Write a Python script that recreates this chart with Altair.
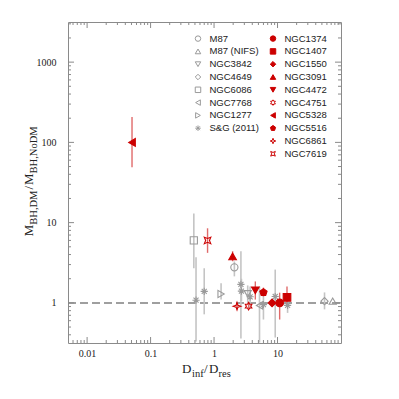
import altair as alt
import pandas as pd

W, H = 273, 321

# ---------------- data ----------------
gray_names = ["M87", "M87 (NIFS)", "NGC3842", "NGC4649", "NGC6086",
              "NGC7768", "NGC1277", "S&G (2011)"]
red_names = ["NGC1374", "NGC1407", "NGC1550", "NGC3091", "NGC4472",
             "NGC4751", "NGC5328", "NGC5516", "NGC6861", "NGC7619"]

pt_name = ["M87", "M87 (NIFS)", "NGC3842", "NGC4649", "NGC6086", "NGC7768", "NGC1277",
           "S&G (2011)", "S&G (2011)", "S&G (2011)", "S&G (2011)",
           "S&G (2011)", "S&G (2011)", "S&G (2011)", "S&G (2011)",
           "NGC1374", "NGC1407", "NGC1550", "NGC3091", "NGC4472",
           "NGC4751", "NGC5328", "NGC5516", "NGC6861", "NGC7619"]
pt_x = [2.09, 74.0, 3.39, 55.0, 0.48, 5.2, 1.29,
        0.52, 0.70, 2.65, 2.70, 3.70, 6.0, 9.2, 14.4,
        10.8, 14.1, 8.2, 1.96, 4.47, 3.5, 0.051, 6.0, 2.3, 0.79]
pt_y = [2.77, 1.05, 1.30, 1.05, 6.0, 0.93, 1.29,
        1.08, 1.39, 1.70, 1.40, 1.19, 0.95, 1.20, 0.93,
        1.00, 1.17, 1.00, 3.79, 1.43, 0.91, 100.0, 1.35, 0.91, 6.0]
pt_lo = [2.14, None, 1.0, 0.83, 2.7, 0.32, 1.10,
         0.33, 0.72, 0.36, 1.05, 0.85, 0.62, 0.37, 0.75,
         0.62, 0.95, 0.90, 3.30, 1.10, 0.85, 49.0, 1.20, 0.83, 4.2]
pt_hi = [3.28, None, 1.65, 1.35, 13.0, 1.6, 1.75,
         3.7, 2.7, 4.4, 2.0, 1.6, 1.3, 2.6, 1.1,
         1.34, 1.60, 1.10, 4.40, 1.85, 0.98, 207.0, 1.55, 1.00, 8.5]

# axis tick positions
xt_major = [0.01, 0.1, 1, 10]
xt_minor = [0.006, 0.007, 0.008, 0.009,
            0.02, 0.03, 0.04, 0.05, 0.06, 0.07, 0.08, 0.09,
            0.2, 0.3, 0.4, 0.5, 0.6, 0.7, 0.8, 0.9,
            2, 3, 4, 5, 6, 7, 8, 9,
            20, 30, 40, 50, 60, 70, 80, 90]
yt_major = [1, 10, 100, 1000]
yt_minor = [0.4, 0.5, 0.6, 0.7, 0.8, 0.9,
            2, 3, 4, 5, 6, 7, 8, 9,
            20, 30, 40, 50, 60, 70, 80, 90,
            200, 300, 400, 500, 600, 700, 800, 900,
            2000, 3000]

# ---------------- styling ----------------
GRAY = "#9a9a9a"
GRAY_BAR = "#c4c4c4"
RED = "#cc0000"
RED_BAR = "#e06a6a"
AXC = "#8a8a8a"

PENT = "M0,-1L0.951,-0.309L0.588,0.809L-0.588,0.809L-0.951,-0.309Z"
HEXA = ("M0,-1L0.289,-0.5L0.866,-0.5L0.577,0L0.866,0.5L0.289,0.5L0,1L-0.289,0.5"
        "L-0.866,0.5L-0.577,0L-0.866,-0.5L-0.289,-0.5Z")
STAR4 = "M0,-1L0.25,-0.25L1,0L0.25,0.25L0,1L-0.25,0.25L-1,0L-0.25,-0.25Z"
CSQ = "M-0.85,-0.85L0,-0.5L0.85,-0.85L0.5,0L0.85,0.85L0,0.5L-0.85,0.85L-0.5,0Z"
AST = "M0,-1L0,1M-1,0L1,0M-0.7,-0.7L0.7,0.7M-0.7,0.7L0.7,-0.7"

style = {
    "M87": ("circle", "transparent", GRAY),
    "M87 (NIFS)": ("triangle-up", "transparent", GRAY),
    "NGC3842": ("triangle-down", "transparent", GRAY),
    "NGC4649": ("diamond", "transparent", GRAY),
    "NGC6086": ("square", "transparent", GRAY),
    "NGC7768": ("triangle-left", "transparent", GRAY),
    "NGC1277": ("triangle-right", "transparent", GRAY),
    "S&G (2011)": (AST, "transparent", GRAY),
    "NGC1374": ("circle", RED, RED),
    "NGC1407": ("square", RED, RED),
    "NGC1550": ("diamond", RED, RED),
    "NGC3091": ("triangle-up", RED, RED),
    "NGC4472": ("triangle-down", RED, RED),
    "NGC4751": (HEXA, "transparent", RED),
    "NGC5328": ("triangle-left", RED, RED),
    "NGC5516": (PENT, RED, RED),
    "NGC6861": (STAR4, "transparent", RED),
    "NGC7619": (CSQ, "transparent", RED),
}
all_names = gray_names + red_names

xs = alt.Scale(type="log", domain=[0.005, 100], nice=False)
ys = alt.Scale(type="log", domain=[0.316228, 3162.28], nice=False)
xaxis = alt.Axis(values=xt_major, format="~g", title=None, ticks=False, tickSize=0,
                 domain=False, grid=False, labelFont="Liberation Serif",
                 labelFontSize=10, labelColor="#222", labelPadding=5)
yaxis = alt.Axis(values=yt_major, format="~g", title=None, ticks=False, tickSize=0,
                 domain=False, grid=False, labelFont="Liberation Serif",
                 labelFontSize=10, labelColor="#222", labelPadding=12)


def X(f):
    return alt.X(f, type="quantitative", scale=xs, axis=xaxis)


def Y(f):
    return alt.Y(f, type="quantitative", scale=ys, axis=yaxis)


df = pd.DataFrame({"name": pt_name, "x": pt_x, "y": pt_y, "lo": pt_lo, "hi": pt_hi})
df["grp"] = ["gray" if n in gray_names else "red" for n in df["name"]]
one = pd.DataFrame({"d": [0]})

layers = []

# dashed line at unity
layers.append(
    alt.Chart(pd.DataFrame({"y": [1.0]})).mark_rule(
        color="#808080", strokeWidth=1.5, strokeDash=[8, 4]
    ).encode(y=Y("y"), x=alt.value(0), x2=alt.value(W))
)

# error bars
bars = df.dropna(subset=["lo", "hi"])
layers.append(
    alt.Chart(bars[bars.grp == "gray"]).mark_rule(color=GRAY_BAR, strokeWidth=1.6, clip=True)
    .encode(x=X("x"), y=Y("lo"), y2="hi")
)
layers.append(
    alt.Chart(bars[bars.grp == "red"]).mark_rule(color=RED_BAR, strokeWidth=1.4, clip=True)
    .encode(x=X("x"), y=Y("lo"), y2="hi")
)

# points
shape_scale = alt.Scale(domain=all_names, range=[style[n][0] for n in all_names])
fill_scale = alt.Scale(domain=all_names, range=[style[n][1] for n in all_names])
stroke_scale = alt.Scale(domain=all_names, range=[style[n][2] for n in all_names])
for grp, size in (("gray", 52), ("red", 58)):
    layers.append(
        alt.Chart(df[df.grp == grp]).mark_point(filled=True, opacity=1, size=size, strokeWidth=1.1)
        .encode(
            x=X("x"), y=Y("y"),
            shape=alt.Shape("name:N", scale=shape_scale, legend=None),
            fill=alt.Fill("name:N", scale=fill_scale, legend=None),
            stroke=alt.Stroke("name:N", scale=stroke_scale, legend=None),
        )
    )

# inward ticks on all four sides
for vals, ln in ((xt_major, 6), (xt_minor, 3)):
    d = pd.DataFrame({"x": vals})
    layers.append(alt.Chart(d).mark_rule(color=AXC, strokeWidth=1)
                  .encode(x=X("x"), y=alt.value(H), y2=alt.value(H - ln)))
    layers.append(alt.Chart(d).mark_rule(color=AXC, strokeWidth=1)
                  .encode(x=X("x"), y=alt.value(0), y2=alt.value(ln)))
for vals, ln in ((yt_major, 6), (yt_minor, 3)):
    d = pd.DataFrame({"y": vals})
    layers.append(alt.Chart(d).mark_rule(color=AXC, strokeWidth=1)
                  .encode(y=Y("y"), x=alt.value(0), x2=alt.value(ln)))
    layers.append(alt.Chart(d).mark_rule(color=AXC, strokeWidth=1)
                  .encode(y=Y("y"), x=alt.value(W), x2=alt.value(W - ln)))

# legend (two columns inside the plot)
for col, names in ((0, gray_names), (1, red_names)):
    sx = 130 if col == 0 else 205
    for i, n in enumerate(names):
        yy = 16.6 + 12.8 * i
        shp, fil, stk = style[n]
        layers.append(alt.Chart(one).mark_point(filled=True, opacity=1, size=30, strokeWidth=1)
                      .encode(x=alt.value(sx), y=alt.value(yy), shape=alt.value(shp),
                              fill=alt.value(fil), stroke=alt.value(stk)))
        layers.append(alt.Chart(one).mark_text(
            text=n, align="left", baseline="middle", font="Liberation Sans",
            fontSize=9.5, color="#222").encode(x=alt.value(sx + 11.5), y=alt.value(yy)))

# x-axis title  D_inf / D_res
SERIF = "Liberation Serif"
xt_parts = [("D", 13, 114, 351.3), ("inf", 10.5, 124, 355), ("/", 13, 136, 351.3),
            ("D", 13, 141, 351.3), ("res", 10.5, 150.5, 355)]
for t, fs, px, py in xt_parts:
    layers.append(alt.Chart(one).mark_text(text=t, align="left", baseline="alphabetic",
                                           font=SERIF, fontSize=fs, color="#222")
                  .encode(x=alt.value(px), y=alt.value(py)))

# y-axis title  M_BH,DM / M_BH,NoDM (rotated)
yt_parts = [("M", 13, -34.7, 214.3), ("BH,DM", 10.5, -31.2, 202.7), ("/", 13, -34.7, 167.6),
            ("M", 13, -34.7, 163.0), ("BH,NoDM", 10.5, -31.2, 151.4)]
for t, fs, px, py in yt_parts:
    layers.append(alt.Chart(one).mark_text(text=t, align="left", baseline="alphabetic",
                                           angle=270, font=SERIF, fontSize=fs, color="#222")
                  .encode(x=alt.value(px), y=alt.value(py)))

chart = alt.layer(*layers).properties(
    width=W, height=H,
    autosize=alt.AutoSizeParams(type="none"),
    padding={"left": 60, "top": 14, "right": 50, "bottom": 48},
    background="white",
).configure_view(stroke=AXC, strokeWidth=1)

chart.save("out.html", embed_options={"renderer": "svg", "actions": False})
